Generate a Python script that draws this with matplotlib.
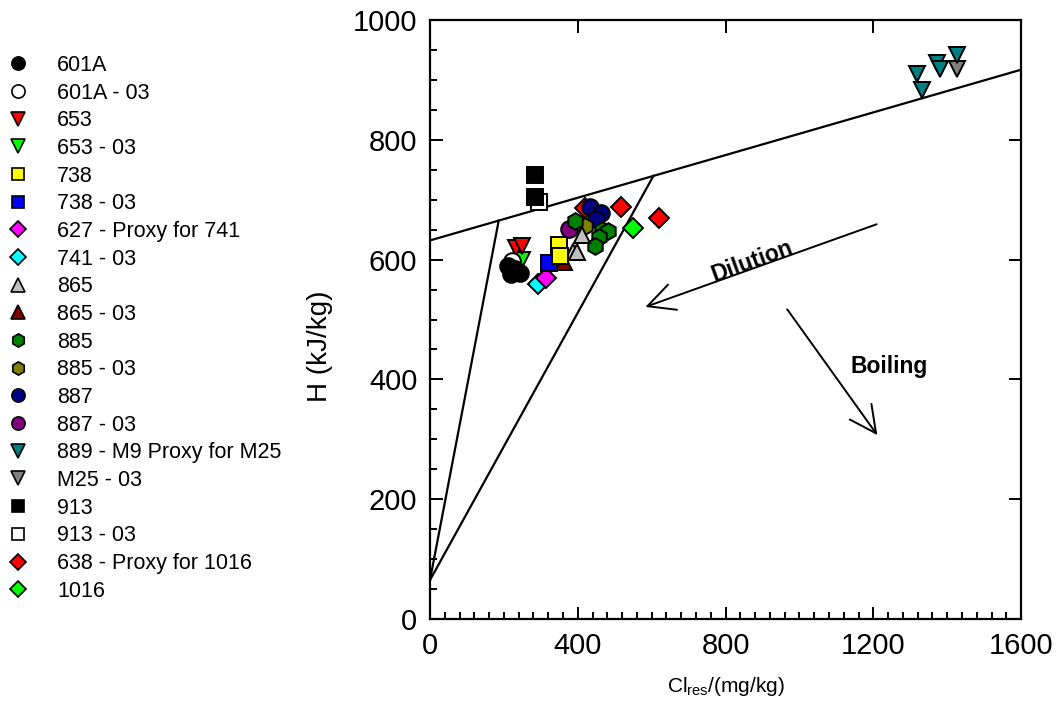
import matplotlib
matplotlib.use('Agg')
import matplotlib.pyplot as plt
from matplotlib.ticker import MultipleLocator
from matplotlib.lines import Line2D

plt.rcParams['font.family'] = ['Liberation Sans', 'DejaVu Sans']

# series: label, marker, face colour, Cl values, H values
labels = ['601A', '601A - 03', '653', '653 - 03', '738', '738 - 03',
          '627 - Proxy for 741', '741 - 03', '865', '865 - 03', '885',
          '885 - 03', '887', '887 - 03', '889 - M9 Proxy for M25',
          'M25 - 03', '913', '913 - 03', '638 - Proxy for 1016', '1016']
markers = ['o', 'o', 'v', 'v', 's', 's', 'D', 'D', '^', '^', 'h', 'h',
           'o', 'o', 'v', 'v', 's', 's', 'D', 'D']
colors = ['#000000', '#FFFFFF', '#FF0000', '#00FF00', '#FFFF00', '#0000FF',
          '#FF00FF', '#00FFFF', '#C0C0C0', '#800000', '#008000', '#808000',
          '#000080', '#800080', '#008080', '#808080', '#000000', '#FFFFFF',
          '#FF0000', '#00FF00']

cl_601A = [212, 220, 243, 230]
h_601A = [589, 576, 577, 584]
cl_601A_03 = [223]
h_601A_03 = [598]
cl_653 = [233, 248]
h_653 = [620, 623]
cl_653_03 = [248]
h_653_03 = [599]
cl_738 = [349, 352]
h_738 = [624, 606]
cl_738_03 = [322]
h_738_03 = [594]
cl_627 = [314]
h_627 = [570]
cl_741_03 = [293]
h_741_03 = [559]
cl_865 = [411, 386, 399]
h_865 = [641, 613, 612]
cl_865_03 = [364]
h_865_03 = [596]
cl_885 = [393, 465, 483, 457, 447]
h_885 = [664, 650, 647, 637, 622]
cl_885_03 = [420]
h_885_03 = [656]
cl_887 = [433, 463, 449]
h_887 = [688, 678, 667]
cl_887_03 = [376]
h_887_03 = [651]
cl_889 = [1319, 1333, 1372, 1381, 1426]
h_889 = [910, 883, 929, 919, 942]
cl_M25_03 = [1426]
h_M25_03 = [919]
cl_913 = [284, 284]
h_913 = [741, 705]
cl_913_03 = [296]
h_913_03 = [697]
cl_638 = [420, 517, 620]
h_638 = [686, 687, 670]
cl_1016 = [550]
h_1016 = [653]

cl_all = [cl_601A, cl_601A_03, cl_653, cl_653_03, cl_738, cl_738_03, cl_627,
          cl_741_03, cl_865, cl_865_03, cl_885, cl_885_03, cl_887, cl_887_03,
          cl_889, cl_M25_03, cl_913, cl_913_03, cl_638, cl_1016]
h_all = [h_601A, h_601A_03, h_653, h_653_03, h_738, h_738_03, h_627,
         h_741_03, h_865, h_865_03, h_885, h_885_03, h_887, h_887_03,
         h_889, h_M25_03, h_913, h_913_03, h_638, h_1016]

# guide lines (Cl, H)
mixing_x = [0, 1600]
mixing_y = [632, 917]
left_x = [0, 186]
left_y = [65, 665]
right_x = [0, 605]
right_y = [65, 740]

# marker sizes for plot / legend
plot_size = {'o': 12, 's': 11, 'D': 10, 'v': 12, '^': 12, 'h': 12}
leg_size = {'o': 9.5, 's': 9, 'D': 8, 'v': 9.5, '^': 9.5, 'h': 9.5}

fig = plt.figure(figsize=(10.57, 7.04), dpi=100)
ax = fig.add_axes([0.4068, 0.1207, 0.5592, 0.8509])

ax.plot(mixing_x, mixing_y, color='black', lw=1.6, zorder=2)
ax.plot(left_x, left_y, color='black', lw=1.6, zorder=2)
ax.plot(right_x, right_y, color='black', lw=1.6, zorder=2)

# draw series in reverse so early series sit on top
for i in range(len(labels) - 1, -1, -1):
    ax.plot(cl_all[i], h_all[i], linestyle='none', marker=markers[i],
            markersize=plot_size[markers[i]],
            markerfacecolor=colors[i], markeredgecolor='black',
            markeredgewidth=1.4, zorder=3)

# arrows
ax.annotate('', xy=(583, 521), xytext=(1209, 659),
            arrowprops=dict(arrowstyle='->', lw=1.4, color='black',
                            mutation_scale=48, shrinkA=0, shrinkB=0))
ax.annotate('', xy=(1211, 307), xytext=(967, 517),
            arrowprops=dict(arrowstyle='->', lw=1.4, color='black',
                            mutation_scale=48, shrinkA=0, shrinkB=0))
ax.text(873, 597, 'Dilution', fontsize=16.5, fontweight='bold',
        rotation=20, ha='center', va='center')
ax.text(1243, 422, 'Boiling', fontsize=16.5, fontweight='bold',
        ha='center', va='center')

ax.set_xlim(0, 1600)
ax.set_ylim(0, 1000)
ax.xaxis.set_major_locator(MultipleLocator(400))
ax.xaxis.set_minor_locator(MultipleLocator(40))
ax.yaxis.set_major_locator(MultipleLocator(200))
ax.yaxis.set_minor_locator(MultipleLocator(50))
ax.tick_params(which='both', direction='in', top=True, right=True,
               labelsize=21, width=1.4)
ax.tick_params(which='major', length=9, pad=9)
ax.tick_params(which='minor', length=5, top=False, right=False)
for s in ax.spines.values():
    s.set_linewidth(1.6)

ax.set_ylabel('H (kJ/kg)', fontsize=20)
ax.yaxis.set_label_coords(-0.164, 0.456)
ax.set_xlabel('Cl$_{\\mathregular{res}}$/(mg/kg)', fontsize=15)
ax.xaxis.set_label_coords(0.5, -0.093)

handles = []
for i in range(len(labels)):
    handles.append(Line2D([], [], linestyle='none', marker=markers[i],
                          markersize=leg_size[markers[i]],
                          markerfacecolor=colors[i], markeredgecolor='black',
                          markeredgewidth=1.2))
fig.legend(handles, labels, loc='upper left', bbox_to_anchor=(0.005, 0.922),
           frameon=False, fontsize=15.5, handletextpad=1.2, handlelength=1.2,
           labelspacing=0.31, borderpad=0, borderaxespad=0)

fig.savefig('out.png', dpi=100)
